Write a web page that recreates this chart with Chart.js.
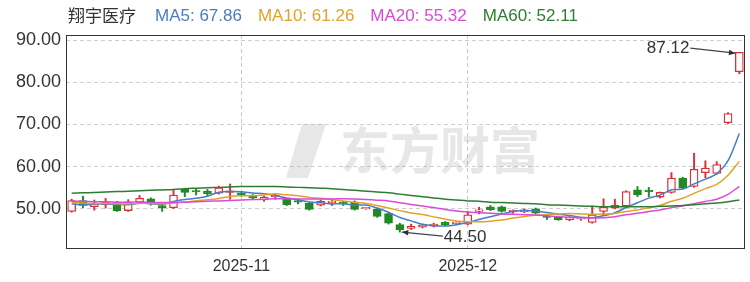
<!DOCTYPE html>
<html>
<head>
<meta charset="utf-8">
<script src="https://cdn.jsdelivr.net/npm/chart.js@4"></script>
<style>
html,body{margin:0;padding:0;background:#fff;}
#wrap{position:relative;width:750px;height:282px;}
</style>
</head>
<body>
<div id="wrap"><canvas id="c"></canvas></div>
<script>
// ---- data ----
const stockName = '翔宇医疗';
const dates = [
 '2025-10-13','2025-10-14','2025-10-15','2025-10-16','2025-10-17','2025-10-20','2025-10-21','2025-10-22','2025-10-23','2025-10-24',
 '2025-10-27','2025-10-28','2025-10-29','2025-10-30','2025-10-31','2025-11-03','2025-11-04','2025-11-05','2025-11-06','2025-11-07',
 '2025-11-10','2025-11-11','2025-11-12','2025-11-13','2025-11-14','2025-11-17','2025-11-18','2025-11-19','2025-11-20','2025-11-21',
 '2025-11-24','2025-11-25','2025-11-26','2025-11-27','2025-11-28','2025-12-01','2025-12-02','2025-12-03','2025-12-04','2025-12-05',
 '2025-12-08','2025-12-09','2025-12-10','2025-12-11','2025-12-12','2025-12-15','2025-12-16','2025-12-17','2025-12-18','2025-12-19',
 '2025-12-22','2025-12-23','2025-12-24','2025-12-25','2025-12-26','2025-12-29','2025-12-30','2025-12-31','2026-01-05','2026-01-06'
];
const opens  = [49.4,52.0,50.5,51.0,51.6,49.6,51.6,52.4,50.8,50.3, 54.7,54.2,54.2,53.7,53.9,53.8,53.2,52.1,52.9,52.3,
                51.9,51.3,50.9,51.5,51.3,51.7,50.0,49.9,48.9,46.3, 45.4,45.7,45.9,46.8,46.5,46.4,49.4,50.5,50.5,49.3,
                49.3,50.0,48.1,48.1,47.4,47.6,46.8,49.4,50.2,50.7, 54.5,54.2,52.8,53.9,57.3,55.3,58.6,58.4,70.4,82.5];
const highs  = [52.3,53.0,52.1,52.5,51.8,52.2,53.2,52.6,51.0,54.4, 54.9,54.7,54.6,55.4,55.9,54.1,53.4,53.0,53.6,52.5,
                52.4,51.5,52.1,52.3,51.8,51.9,50.3,50.1,49.1,46.6, 46.4,46.4,46.6,47.0,46.9,49.4,50.4,50.8,50.7,49.8,
                50.0,50.2,48.3,48.3,48.2,47.9,50.7,52.4,52.3,54.3, 55.3,55.1,54.0,58.6,57.5,63.2,61.4,61.2,72.8,87.12];
const lows   = [49.2,50.3,49.7,50.2,49.4,49.4,51.4,50.9,49.4,50.1, 52.9,53.3,53.0,53.5,52.3,53.0,52.4,51.8,52.3,50.8,
                51.2,49.7,50.7,50.8,50.8,49.7,49.9,48.0,46.4,44.50, 45.1,45.5,45.7,46.0,46.2,46.2,48.8,49.6,49.2,49.0,
                49.1,48.9,47.5,47.3,47.2,47.3,46.6,48.6,50.0,50.5, 52.9,52.9,52.6,53.7,54.7,55.1,57.4,58.2,70.2,82.0];
const closes = [52.0,50.8,51.3,51.7,49.5,51.7,52.5,51.1,50.3,53.3, 53.9,54.0,53.6,55.0,54.2,53.4,52.6,52.8,53.0,51.0,
                51.6,49.9,51.8,51.6,51.2,49.9,50.1,48.2,46.6,45.0, 45.9,46.2,46.4,46.2,46.6,48.6,49.6,49.8,49.4,49.5,
                49.8,49.0,48.0,47.4,48.0,47.6,48.6,50.4,50.9,54.1, 53.3,54.1,53.9,57.3,54.9,59.4,59.7,60.5,72.6,87.12];
const ma5  = [51.2,51.0,51.1,51.2,51.06,51.0,51.34,51.3,51.02,51.78, 52.22,52.52,53.02,53.96,54.14,54.04,53.76,53.6,53.2,52.56,
              52.2,51.66,51.46,51.18,51.22,50.88,50.92,50.2,49.2,47.96, 47.16,46.38,46.02,45.94,46.26,46.8,47.48,48.16,48.8,49.38,
              49.62,49.5,49.14,48.74,48.44,48.0,47.92,48.4,49.1,50.32, 51.46,52.56,53.26,54.54,54.7,55.92,57.04,58.36,61.42,67.86];
const ma10 = [51.5,51.4,51.3,51.3,51.2,51.2,51.3,51.3,51.2,51.42, 51.61,51.93,52.16,52.49,52.96,53.13,53.14,53.31,53.58,53.35,
              53.12,52.71,52.53,52.19,51.89,51.54,51.29,50.83,50.19,49.59, 49.02,48.65,48.11,47.57,47.11,46.98,46.93,47.09,47.37,47.82,
              48.21,48.49,48.65,48.77,48.91,48.81,48.71,48.77,48.92,49.38, 49.73,50.24,50.83,51.82,52.51,53.69,54.8,55.81,57.98,61.26];
const ma20 = [51.8,51.8,51.7,51.7,51.6,51.6,51.6,51.5,51.5,51.5, 51.6,51.7,51.8,51.9,52.0,52.1,52.2,52.3,52.4,52.39,
              52.37,52.32,52.35,52.34,52.43,52.34,52.22,52.07,51.89,51.47, 51.07,50.68,50.32,49.88,49.5,49.26,49.11,48.96,48.78,48.71,
              48.62,48.57,48.38,48.17,48.01,47.9,47.82,47.93,48.15,48.6, 48.97,49.37,49.74,50.3,50.71,51.25,51.76,52.29,53.45,55.32];
const ma60 = [53.7,53.8,53.9,54.0,54.1,54.2,54.3,54.4,54.5,54.6, 54.8,54.9,55.0,55.1,55.2,55.3,55.3,55.3,55.3,55.2,
              55.1,55.0,54.9,54.8,54.6,54.4,54.2,54.0,53.8,53.5, 53.2,52.9,52.6,52.3,52.1,51.9,51.8,51.6,51.5,51.4,
              51.3,51.2,51.0,50.9,50.8,50.7,50.6,50.5,50.5,50.5, 50.5,50.5,50.6,50.7,50.8,51.0,51.2,51.4,51.7,52.11];
const yTicks = [50, 60, 70, 80, 90];
const xTickLabels = ['2025-11', '2025-12'];

// ---- styles ----
const UP = '#dc2f35', DOWN = '#1f8a25';
const C5 = '#4a7cc4', C10 = '#e3a227', C20 = '#d94ad9', C60 = '#2e7d32';
const FONT = "'Liberation Sans', Arial, sans-serif";

const isUp = i => closes[i] >= opens[i];
const tickIdx = xTickLabels.map(m => dates.findIndex(d => d.startsWith(m)));

const legendPlugin = {
  id: 'legendTop',
  afterDraw(chart) {
    const ctx = chart.ctx;
    ctx.save();
    ctx.font = "17px 'Noto Sans CJK SC', sans-serif";
    ctx.textBaseline = 'middle';
    ctx.fillStyle = '#333';
    ctx.fillText(stockName, 68, 16);
    ctx.font = '17px ' + FONT;
    const items = [
      ['MA5: ' + ma5[ma5.length-1].toFixed(2), C5],
      ['MA10: ' + ma10[ma10.length-1].toFixed(2), C10],
      ['MA20: ' + ma20[ma20.length-1].toFixed(2), C20],
      ['MA60: ' + ma60[ma60.length-1].toFixed(2), C60]
    ];
    let x = 155;
    items.forEach(([t, c]) => {
      ctx.fillStyle = c; ctx.fillText(t, x, 16);
      x += ctx.measureText(t).width + 16;
    });
    ctx.restore();
  }
};

const watermarkPlugin = {
  id: 'watermark',
  beforeDatasetsDraw(chart) {
    const ctx = chart.ctx;
    ctx.save();
    ctx.fillStyle = 'rgba(160,160,160,0.25)';
    ctx.font = "bold 50px 'Noto Sans CJK SC', sans-serif";
    ctx.textBaseline = 'middle';
    ctx.fillText('东方财富', 340, 150);
    ctx.beginPath();
    ctx.moveTo(302, 124); ctx.lineTo(326, 124); ctx.lineTo(308, 178); ctx.lineTo(286, 178); ctx.closePath();
    ctx.fill();
    ctx.restore();
  }
};

const framePlugin = {
  id: 'frame',
  afterDraw(chart) {
    const a = chart.chartArea, ctx = chart.ctx;
    ctx.save();
    ctx.strokeStyle = '#333';
    ctx.lineWidth = 1;
    ctx.strokeRect(Math.round(a.left) + 0.5, Math.round(a.top) + 0.5, Math.round(a.right - a.left) - 1, Math.round(a.bottom - a.top) - 1);
    ctx.restore();
  }
};

function arrow(ctx, x1, y1, x2, y2) {
  ctx.beginPath(); ctx.moveTo(x1, y1); ctx.lineTo(x2, y2); ctx.stroke();
  const ang = Math.atan2(y2 - y1, x2 - x1), L = 7;
  ctx.beginPath();
  ctx.moveTo(x2, y2);
  ctx.lineTo(x2 - L * Math.cos(ang - 0.4), y2 - L * Math.sin(ang - 0.4));
  ctx.lineTo(x2 - L * Math.cos(ang + 0.4), y2 - L * Math.sin(ang + 0.4));
  ctx.closePath(); ctx.fill();
}

const extremePlugin = {
  id: 'extremes',
  afterDatasetsDraw(chart) {
    const xs = chart.scales.x, ys = chart.scales.y, ctx = chart.ctx;
    const hi = Math.max(...highs), lo = Math.min(...lows);
    const hiI = highs.indexOf(hi), loI = lows.indexOf(lo);
    ctx.save();
    ctx.font = '17px ' + FONT;
    ctx.fillStyle = '#333';
    ctx.strokeStyle = '#444';
    ctx.lineWidth = 1.2;
    ctx.textBaseline = 'middle';
    let px = xs.getPixelForValue(hiI), py = ys.getPixelForValue(hi);
    ctx.textAlign = 'right';
    ctx.fillText(hi.toFixed(2), px - 50, py - 4);
    arrow(ctx, px - 49, py - 4, px - 4, py + 1);
    px = xs.getPixelForValue(loI); py = ys.getPixelForValue(lo);
    ctx.textAlign = 'left';
    ctx.fillText(lo.toFixed(2), px + 44, py + 5);
    arrow(ctx, px + 43, py + 4, px + 2, py);
    ctx.restore();
  }
};

const lineDs = (label, data, color) => ({
  type: 'line', label, data, borderColor: color, borderWidth: 1.5,
  pointRadius: 0, tension: 0.3, order: 0, fill: false
});

new Chart(document.getElementById('c'), {
  data: {
    labels: dates,
    datasets: [
      lineDs('MA60', ma60, C60),
      lineDs('MA20', ma20, C20),
      lineDs('MA10', ma10, C10),
      lineDs('MA5', ma5, C5),
      {
        type: 'bar', label: 'body',
        data: dates.map((d, i) => [opens[i], closes[i]]),
        backgroundColor: dates.map((d, i) => isUp(i) ? '#ffffff' : DOWN),
        borderColor: dates.map((d, i) => isUp(i) ? UP : DOWN),
        borderWidth: 1.3, borderSkipped: false,
        barThickness: 8, grouped: false, order: 1, minBarLength: 1.5
      },
      {
        type: 'bar', label: 'wick',
        data: dates.map((d, i) => [lows[i], highs[i]]),
        backgroundColor: dates.map((d, i) => isUp(i) ? UP : DOWN),
        borderWidth: 0, barThickness: 1.3, grouped: false, order: 2
      }
    ]
  },
  options: {
    responsive: true, maintainAspectRatio: false, animation: false,
    layout: { padding: { left: 0, right: 5, top: 35, bottom: 0 } },
    plugins: { legend: { display: false }, tooltip: { enabled: false } },
    scales: {
      x: {
        type: 'category', offset: true,
        grid: {
          offset: false, drawTicks: false,
          color: ctx => tickIdx.includes(ctx.index) ? '#c8c8c8' : 'rgba(0,0,0,0)'
        },
        border: { display: false, dash: [4, 3] },
        ticks: {
          autoSkip: false, maxRotation: 0, padding: 8, color: '#333',
          font: { family: FONT, size: 16 },
          callback: (v, i) => { const k = tickIdx.indexOf(i); return k >= 0 ? xTickLabels[k] : ''; }
        },
        afterFit: s => { s.height = 33; }
      },
      y: {
        min: 40.5, max: 91.2,
        afterBuildTicks: s => { s.ticks = yTicks.map(v => ({ value: v })); },
        grid: { color: '#cfcfcf', drawTicks: false },
        border: { display: false, dash: [4, 3] },
        ticks: {
          padding: 5, color: '#333', font: { family: FONT, size: 18 },
          callback: v => Number(v).toFixed(2)
        },
        afterFit: s => { s.width = 66; }
      }
    }
  },
  plugins: [watermarkPlugin, extremePlugin, framePlugin, legendPlugin]
});
</script>
</body>
</html>
